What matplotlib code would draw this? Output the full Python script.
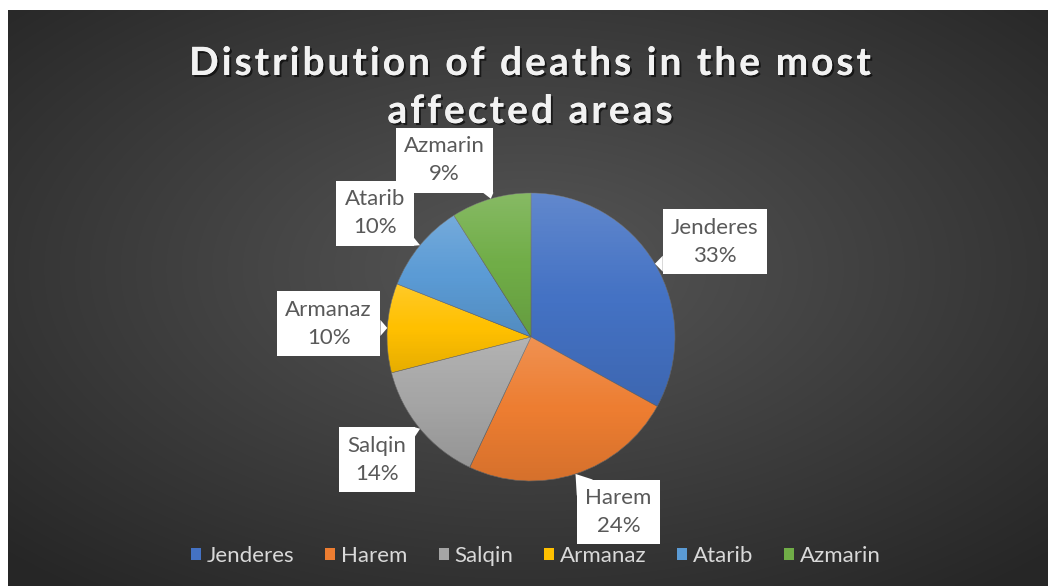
import numpy as np
import matplotlib
from matplotlib import pyplot as plt
from matplotlib.patches import Patch, Polygon
import matplotlib.patheffects as pe

matplotlib.use('Agg')

areas = ['Jenderes', 'Harem', 'Salqin', 'Armanaz', 'Atarib', 'Azmarin']
shares = [33, 24, 14, 10, 10, 9]
colors = ['#4472C4', '#ED7D31', '#A5A5A5', '#FFC000', '#5B9BD5', '#70AD47']
title_lines = ['Distribution of deaths in the most', 'affected areas']

W, H = 1048, 586
fig = plt.figure(figsize=(W / 100, H / 100), dpi=100, facecolor='white')
ax = fig.add_axes([0, 0, 1, 1])
ax.axis('off')
renderer = fig.canvas.get_renderer()

# dark radial background (white strip left and top)
gx, gy = np.meshgrid(np.linspace(0, 1, 400), np.linspace(0, 1, 240))
d = np.sqrt(((gx - 0.5) / 0.75) ** 2 + ((gy - 0.45) / 0.75) ** 2)
shade = np.clip(0.34 - 0.2 * d, 0.15, 0.34)
bg = np.dstack([shade, shade, shade])
ax.imshow(bg, extent=(8, W, 0, H - 10), zorder=0, interpolation='bilinear')

# pie
cx, cy, r = 531, H - 337, 144
wedges, _ = ax.pie(shares, colors=colors, startangle=90, counterclock=False,
                   center=(cx, cy), radius=r,
                   wedgeprops=dict(edgecolor='#6a6a6a', linewidth=0.4, zorder=2))

# soft top-light / bottom-dark shading per slice
grad = np.zeros((100, 2, 4))
t = np.linspace(0, 1, 100)[:, None]
grad[..., :3] = np.where(t < 0.5, 1.0, 0.0)[..., None]
grad[..., 3] = np.where(t < 0.5, 0.16 * (1 - 2 * t), 0.10 * (2 * t - 1))
for w in wedges:
    ext = w.get_path().get_extents()
    ax.imshow(grad, extent=(ext.x0, ext.x1, ext.y0, ext.y1), zorder=2.5,
              clip_path=w, interpolation='bilinear', aspect='auto')

# data labels with callouts
nudge = [(13, -6), (26, 14), (-1, 4), (-4, 1), (-3, -3), (-31, -14)]
labels = []
angle = 90.0
for name, val, (nx, ny) in zip(areas, shares, nudge):
    mid = np.radians(angle - val * 3.6 / 2)
    angle -= val * 3.6
    tip = (cx + r * np.cos(mid), cy + r * np.sin(mid))
    lx = cx + 1.38 * r * np.cos(mid) + nx
    ly = cy + 1.38 * r * np.sin(mid) + ny
    txt = ax.text(lx, ly, f'{name}\n{val}%', ha='center', va='center',
                  fontsize=16, family='Lato', color='#595959', linespacing=1.5,
                  zorder=5,
                  bbox=dict(boxstyle='square,pad=0.38', fc='white', ec='none'))
    labels.append((txt, tip))


# title with letter spacing
def text_width(s, **kw):
    tt = ax.text(0, 0, s, **kw)
    w = tt.get_window_extent(renderer).width
    tt.remove()
    return w


tkw = dict(fontsize=28, family='Lato', weight='bold')
shadow = [pe.withSimplePatchShadow(offset=(1.5, -1.5), alpha=0.6,
                                   shadow_rgbFace='black'), pe.Normal()]
track = 3.0
bar = text_width('||', **tkw)
for line, base in zip(title_lines, [75, 123]):
    adv = [text_width('|' + ch + '|', **tkw) - bar + track for ch in line]
    x = 530 - (sum(adv) - track) / 2
    for ch, a in zip(line, adv):
        ax.text(x, H - base, ch, ha='left', va='baseline', color='#f2f2f2',
                zorder=5, path_effects=shadow, **tkw)
        x += a

handles = [Patch(facecolor=c, edgecolor='none') for c in colors]
fig.legend(handles, areas, loc='center', bbox_to_anchor=(536 / W, 1 - 556 / H),
           ncol=6, frameon=False, handlelength=0.45, handleheight=0.45,
           handletextpad=0.25, columnspacing=1.4,
           labelcolor='#d9d9d9', prop={'family': 'Lato', 'size': 16})

ax.set_xlim(0, W)
ax.set_ylim(0, H)

fig.canvas.draw()
inv = ax.transData.inverted()
for txt, tip in labels:
    bb = txt.get_bbox_patch().get_window_extent(renderer)
    (x0, y0), (x1, y1) = inv.transform([[bb.x0, bb.y0], [bb.x1, bb.y1]])
    tx, ty = tip
    px, py = min(max(tx, x0), x1), min(max(ty, y0), y1)
    s = 8
    if x0 <= tx <= x1:
        pts = [(px - s, py), (px + s, py)]
    elif y0 <= ty <= y1:
        pts = [(px, py - s), (px, py + s)]
    else:
        sx = 1 if px == x0 else -1
        sy = 1 if py == y0 else -1
        pts = [(px + sx * 2 * s, py), (px, py + sy * 2 * s)]
    pts = [(min(max(a, x0), x1), min(max(b, y0), y1)) for a, b in pts]
    ax.add_patch(Polygon([tip] + pts, closed=True, fc='white', ec='none', zorder=4.9))

ax.set_xlim(0, W)
ax.set_ylim(0, H)
fig.savefig('out.png', dpi=100, facecolor='white')
